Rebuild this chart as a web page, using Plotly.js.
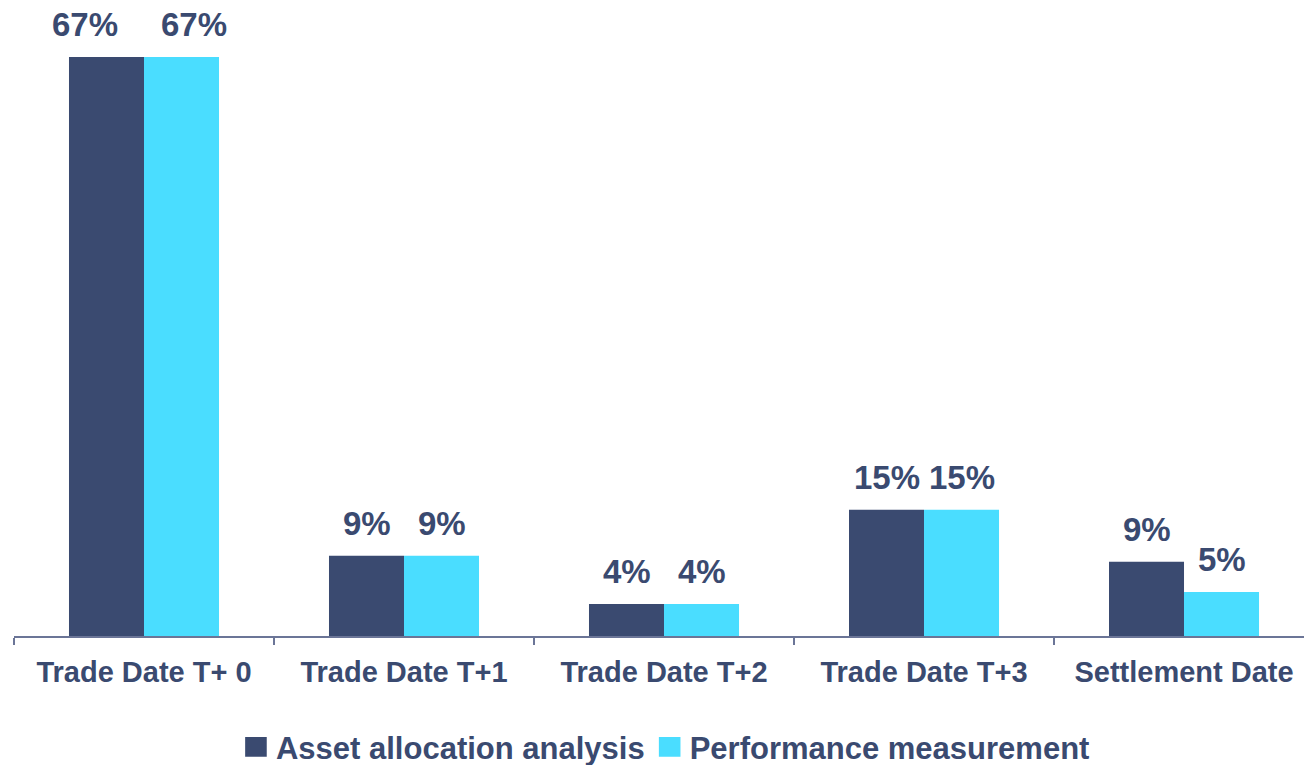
<!DOCTYPE html>
<html>
<head>
<meta charset="utf-8">
<script src="https://cdn.plot.ly/plotly-3.0.1.min.js"></script>
<style>
  html, body { margin: 0; padding: 0; background: #ffffff; }
  #chart { width: 1304px; height: 765px; }
</style>
</head>
<body>
<div id="chart"></div>
<script>
// ---- data ----
const categories = ["Trade Date T+ 0", "Trade Date T+1", "Trade Date T+2", "Trade Date T+3", "Settlement Date"];
const seriesNames = ["Asset allocation analysis", "Performance measurement"];
const assetAllocation = [67, 9.3, 3.7, 14.6, 8.6];
const performanceMeasurement = [67, 9.3, 3.7, 14.6, 5.1];

// ---- styles ----
const colors = ["#3A4A70", "#4ADDFF"];
const textColor = "#3A4A70";
const fontFamily = "'Liberation Sans', Arial, sans-serif";
const labelOffset = 37.5;                 // half bar width in px
const firstGroupLabelSpread = [-22, 12];  // extra outward spread of the first group's labels (style)

const seriesValues = [assetAllocation, performanceMeasurement];

const traces = seriesValues.map((vals, s) => ({
  type: "bar",
  name: seriesNames[s],
  x: categories,
  y: vals,
  marker: { color: colors[s], line: { width: 0 } },
  hoverinfo: "x+y"
}));

const annotations = [];
seriesValues.forEach((vals, s) => {
  vals.forEach((v, i) => {
    const extra = (i === 0) ? firstGroupLabelSpread[s] : 0;
    annotations.push({
      x: categories[i],
      y: v,
      xref: "x",
      yref: "y",
      text: Math.round(v) + "%",
      showarrow: false,
      xanchor: "center",
      yanchor: "bottom",
      xshift: (s === 0 ? -labelOffset : labelOffset) + extra,
      yshift: 12,
      font: { family: fontFamily, size: 33, color: textColor, weight: "bold" }
    });
  });
});

const layout = {
  width: 1304,
  height: 765,
  margin: { l: 14, r: 0, t: 0, b: 129, autoexpand: false },
  paper_bgcolor: "#ffffff",
  plot_bgcolor: "#ffffff",
  barmode: "group",
  bargap: 0.423,
  bargroupgap: 0,
  showlegend: true,
  legend: {
    orientation: "h",
    x: 0.505,
    xanchor: "center",
    y: -0.175,
    yanchor: "middle",
    font: { family: fontFamily, size: 31, color: textColor, weight: "bold" },
    bgcolor: "rgba(0,0,0,0)"
  },
  xaxis: {
    type: "category",
    range: [-0.5, 4.4615],
    showline: true,
    linecolor: "#6b7597",
    linewidth: 1.5,
    ticks: "outside",
    tickson: "boundaries",
    ticklen: 7,
    tickcolor: "#6b7597",
    tickwidth: 1.5,
    ticklabelstandoff: 9,
    showgrid: false,
    zeroline: false,
    tickfont: { family: fontFamily, size: 29, color: textColor, weight: "bold" },
    fixedrange: true
  },
  yaxis: {
    range: [0, 73.6],
    visible: false,
    showgrid: false,
    zeroline: false,
    fixedrange: true
  },
  annotations: annotations
};

const gd = document.getElementById("chart");
function enlargeLegendSymbols() {
  gd.querySelectorAll(".legend .legendpoints path").forEach(p => {
    p.setAttribute("transform", "translate(20,0) scale(1.8,1.65)");
  });
}
Plotly.newPlot(gd, traces, layout, { displayModeBar: false }).then(() => {
  enlargeLegendSymbols();
  gd.on("plotly_afterplot", enlargeLegendSymbols);
});
</script>
</body>
</html>
